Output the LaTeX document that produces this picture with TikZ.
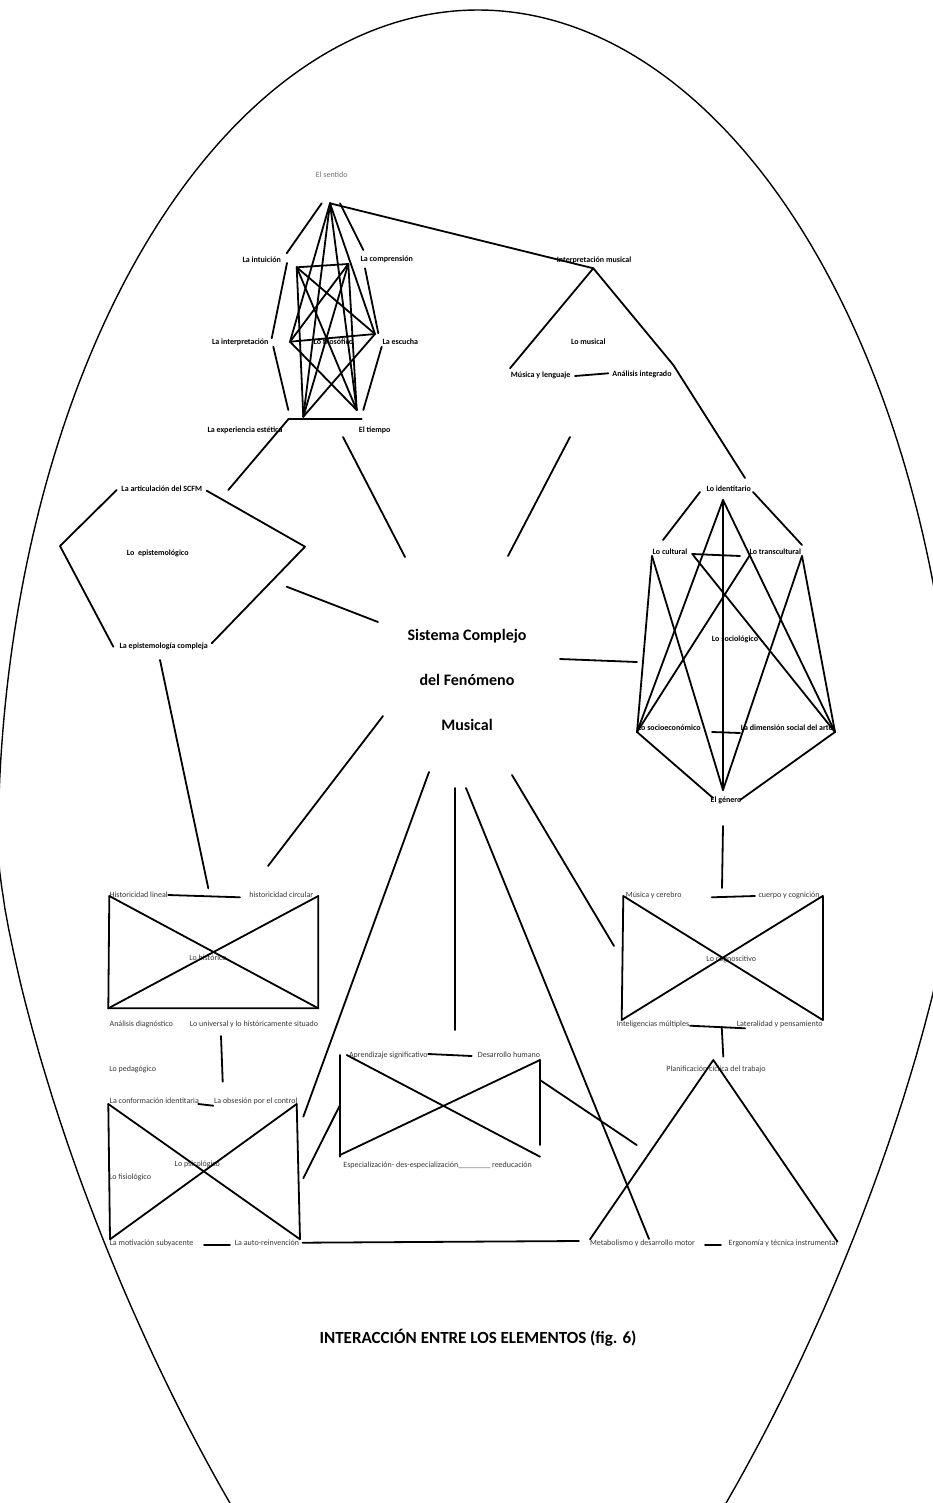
\documentclass[tikz,border=0pt]{standalone}
\usepackage{fontspec}
\setmainfont{Carlito}
\begin{document}
\begin{tikzpicture}[x=1pt,y=-1pt,
  ln/.style={line width=1.8pt, line cap=round, line join=round},
  oval/.style={line width=1.4pt},
  bl/.style={font=\bfseries\fontsize{8}{9}\selectfont, inner sep=0pt, text=black, anchor=base, yshift=-2.7pt},
  rl/.style={font=\fontsize{8}{9}\selectfont, inner sep=0pt, text=black!78, anchor=base, yshift=-2.7pt},
  gl/.style={font=\fontsize{8}{9}\selectfont, inner sep=0pt, text=black!55, anchor=base, yshift=-2.7pt},
  big/.style={font=\bfseries\fontsize{16}{20}\selectfont, inner sep=0pt, anchor=base, yshift=-5.3pt},
  ttl/.style={font=\bfseries\fontsize{17}{20}\selectfont, inner sep=0pt, anchor=base, yshift=-5.6pt}
]
\path[use as bounding box] (0,0) rectangle (933,1503);
\clip (0,0) rectangle (933,1503);
\fill[white] (0,0) rectangle (933,1503);

% outer oval (egg shape: elliptic top, flatter lower part)
\draw[oval] plot[domain=-90:90, samples=181] ({478+480*sin(\x)}, {850-840*cos(\x)});
\draw[oval] plot[domain=0.01:89.99, samples=90] ({478+480*pow(cos(\x),1.4286)}, {850+937*pow(sin(\x),1.4286)});
\draw[oval] plot[domain=0.01:89.99, samples=90] ({478-480*pow(cos(\x),1.4286)}, {850+937*pow(sin(\x),1.4286)});

% ---------- labels ----------
\node[gl] (sentido) at (331.7,175) {El sentido};
\node[bl] (intuicion) at (261.7,260) {La intuición};
\node[bl] (comprension) at (386.7,259.3) {La comprensión};
\node[bl] (interpretacion) at (240.3,342) {La interpretación};
\node[bl] (filosofico) at (333.3,342) {Lo filosófico};
\node[bl] (escucha) at (400.3,342) {La escucha};
\node[bl] (experiencia) at (245,430) {La experiencia estética};
\node[bl] (tiempo) at (374.7,430) {El tiempo};

\node[bl] (intmus) at (594,260) {Interpretación musical};
\node[bl] (musical) at (588.3,341.7) {Lo musical};
\node[bl] (mlen) at (540.7,375) {Música y lenguaje};
\node[bl] (anint) at (642,374) {Análisis integrado};

\node[bl] (artic) at (161.7,489) {La articulación del SCFM};
\node[bl] (episte) at (157.7,553) {Lo\ \ epistemológico};
\node[bl] (epcomp) at (163.7,646) {La epistemología compleja};

\node[bl] (identit) at (728.7,488.3) {Lo identitario};
\node[bl] (cultural) at (670,552) {Lo cultural};
\node[bl] (transc) at (775.3,552) {Lo transcultural};
\node[bl] (sociol) at (735,638.3) {Lo sociológico};
\node[bl] (socioec) at (669.3,728) {Lo socioeconómico};
\node[bl] (dimens) at (786.7,728) {La dimensión social del arte};
\node[bl] (genero) at (726,800) {El género};

\node[big] (sistema1) at (467,635) {Sistema Complejo};
\node[big] (sistema2) at (467,680) {del Fenómeno};
\node[big] (sistema3) at (467,725) {Musical};

\node[rl] (hlin) at (138.7,895) {Historicidad lineal};
\node[rl] (hcirc) at (281.3,895) {historicidad circular};
\node[rl] (histor) at (208,958) {Lo histórico};
\node[rl] (adiag) at (141.3,1023.3) {Análisis diagnóstico};
\node[rl] (univ) at (254,1023.3) {Lo universal y lo históricamente situado};

\node[rl] (mcer) at (653.7,895) {Música y cerebro};
\node[rl] (cuerpo) at (789,895) {cuerpo y cognición};
\node[rl] (cognos) at (731.3,958.3) {Lo cognoscitivo};
\node[rl] (intmul) at (653,1023.3) {Inteligencias múltiples};
\node[rl] (later) at (779.7,1023.3) {Lateralidad y pensamiento};
\node[rl] (planif) at (716,1068.3) {Planificación cíclica del trabajo};

\node[rl] (pedag) at (132.7,1068.3) {Lo pedagógico};
\node[rl] (conform) at (154.3,1100.7) {La conformación identitaria};
\node[rl] (obses) at (255.7,1100.7) {La obsesión por el control};
\node[rl] (psico) at (197.3,1164) {Lo psicológico};
\node[rl] (fisio) at (130,1177) {Lo fisiológico};
\node[rl] (motiv) at (151.5,1242.7) {La motivación subyacente};
\node[rl] (autor) at (267,1242.7) {La auto-reinvención};

\node[rl] (aprend) at (388.3,1055) {Aprendizaje significativo};
\node[rl] (desarr) at (509,1055) {Desarrollo humano};
\node[rl] (especial) at (437.7,1165) {Especialización- des-especialización\_\_\_\_\_\_\_\_\ reeducación};

\node[rl] (metab) at (642.5,1242.7) {Metabolismo y desarrollo motor};
\node[rl] (ergon) at (783,1242.7) {Ergonomía y técnica instrumental};

\node[ttl] (title) at (478,1338) {INTERACCIÓN ENTRE LOS ELEMENTOS (fig. 6)};

% ---------- coordinates ----------
% top cluster
\coordinate (A) at (330,203.3);
\coordinate (As1) at (321.7,203.3); \coordinate (Ae1) at (286.7,253.3);
\coordinate (As2) at (340,203.3);   \coordinate (Ae2) at (363.3,250);
\coordinate (Lo1) at (287,263);     \coordinate (Lo2) at (271.7,338.3);
\coordinate (Lo3) at (273.3,346.7); \coordinate (Lo4) at (288.3,410);
\coordinate (Ro1) at (365,268.3);   \coordinate (Ro2) at (378.3,333.3);
\coordinate (Ro3) at (381.7,346.7); \coordinate (Ro4) at (363.3,410);
\coordinate (Bh1) at (288.3,419.3); \coordinate (Bh2) at (361.7,419.3);
\coordinate (TL) at (296.7,267.3);  \coordinate (TR) at (348.3,264);
\coordinate (ML) at (290,341.7);    \coordinate (MR) at (375,334);
\coordinate (BL) at (303.3,416.7);  \coordinate (BR) at (356.7,410);
% interpretacion musical
\coordinate (IMa) at (593.3,268.3); \coordinate (IMl) at (510,368.3);
\coordinate (IMr) at (673.3,365);   \coordinate (IDt) at (745,478);
\coordinate (MLc1) at (575,376);    \coordinate (MLc2) at (608.3,373.3);
% pentagon
\coordinate (P1) at (116.7,490); \coordinate (P2) at (60,546);
\coordinate (P3) at (113.3,646.7); \coordinate (P4) at (211.7,643.3);
\coordinate (P5) at (305,546.7); \coordinate (P6) at (206.7,490.7);
\coordinate (ArtE) at (228.3,490);
\coordinate (PenC1) at (286.7,586.7); \coordinate (PenC2) at (378,622);
% center connectors
\coordinate (Tie1) at (343,437); \coordinate (Tie2) at (405,557);
\coordinate (Mus1) at (570,437); \coordinate (Mus2) at (508,556);
\coordinate (Soc1) at (560,659); \coordinate (Soc2) at (637,662);
\coordinate (His1) at (383,716); \coordinate (His2) at (268,866);
\coordinate (Psy1) at (429,772); \coordinate (Psy2) at (303.3,1116.7);
\coordinate (Apr1) at (455,788); \coordinate (Apr2) at (455,1030);
\coordinate (Met1) at (466,788); \coordinate (Met2) at (649,1239);
\coordinate (Cog1) at (512,775); \coordinate (Cog2) at (614,946);
\coordinate (EpH1) at (160,660); \coordinate (EpH2) at (208.3,888.3);
% sociologico block
\coordinate (V) at (723,500);  \coordinate (G) at (723,790);
\coordinate (CL) at (652,556); \coordinate (CR) at (802,556);
\coordinate (SL) at (637,732); \coordinate (SR) at (835,732);
\coordinate (Id1) at (700,492); \coordinate (Id2) at (663,540);
\coordinate (Id3) at (753,492); \coordinate (Id4) at (802,545);
\coordinate (Cu1) at (693,555); \coordinate (Tr1) at (750,555);
\coordinate (Hc1) at (692,554); \coordinate (Hc2) at (740,556);
\coordinate (Hs1) at (712,732); \coordinate (Hs2) at (740,733);
\coordinate (G1) at (713,798); \coordinate (G2) at (740,800);
\coordinate (Gen1) at (723,826); \coordinate (Gen2) at (722,888);
% historico box
\coordinate (HTL) at (109.3,896); \coordinate (HTR) at (318.3,896);
\coordinate (HBL) at (108.3,1008.3); \coordinate (HBR) at (318.3,1008.3);
\coordinate (Hl1) at (168.3,895); \coordinate (Hl2) at (240,897.3);
\coordinate (Un1) at (221,1036); \coordinate (Un2) at (222.7,1081.7);
% cognoscitivo box
\coordinate (CTL) at (623.3,896); \coordinate (CTR) at (822.7,896);
\coordinate (CBL) at (621.7,1020); \coordinate (CBR) at (822.7,1020);
\coordinate (Mc1) at (711.7,897.3); \coordinate (Mc2) at (755,896);
\coordinate (Im1) at (690,1025.7); \coordinate (Im2) at (745,1028.3);
\coordinate (Pl1) at (721.7,1026.7); \coordinate (Pl2) at (723.3,1056.7);
% planificacion triangle
\coordinate (PTa) at (713.3,1060); \coordinate (PTl) at (590,1239.3);
\coordinate (PTr) at (837.5,1241.7);
% psicologico box
\coordinate (STL) at (108.3,1104); \coordinate (STR) at (296.7,1104);
\coordinate (SBL) at (110,1239.3); \coordinate (SBR) at (300,1239.3);
\coordinate (Co1) at (198.3,1104); \coordinate (Co2) at (213.3,1105.7);
\coordinate (Mo1) at (204,1245); \coordinate (Mo2) at (230,1245);
\coordinate (Ps1) at (303.3,1178.3); \coordinate (Ps2) at (340,1105);
\coordinate (Au1) at (302.5,1242.7); \coordinate (Au2) at (579,1241);
% aprendizaje box
\coordinate (BTL) at (340,1055); \coordinate (BTLd) at (346.7,1055);
\coordinate (BTR) at (540,1060); \coordinate (BBL) at (340,1156.7);
\coordinate (BBLd) at (340,1155); \coordinate (BBR) at (540,1156.7);
\coordinate (BRe) at (540,1145);
\coordinate (Ap1) at (428.3,1054); \coordinate (Ap2) at (471.7,1056);
\coordinate (Bx1) at (540,1080); \coordinate (Bx2) at (636.7,1145);
\coordinate (Me1) at (705,1245); \coordinate (Me2) at (721,1245);

% ---------- connectors ----------
% top cluster
\draw[ln] (As1) -- (Ae1);
\draw[ln] (As2) -- (Ae2);
\draw[ln] (A) -- (IMa);
\draw[ln] (Lo1) -- (Lo2);
\draw[ln] (Lo3) -- (Lo4);
\draw[ln] (Ro1) -- (Ro2);
\draw[ln] (Ro3) -- (Ro4);
\draw[ln] (Bh1) -- (Bh2);
\draw[ln] (Bh1) -- (ArtE);
\draw[ln] (TL) -- (TR);
\draw[ln] (TL) -- (BL);
\draw[ln] (TR) -- (BR);
\draw[ln] (TL) -- (MR);
\draw[ln] (TL) -- (BR);
\draw[ln] (TR) -- (ML);
\draw[ln] (TR) -- (BL);
\draw[ln] (ML) -- (MR);
\draw[ln] (ML) -- (BR);
\draw[ln] (MR) -- (BL);
\draw[ln] (A) -- (ML);
\draw[ln] (A) -- (BL);
\draw[ln] (A) -- (BR);
\draw[ln] (A) -- (MR);
% interpretacion musical
\draw[ln] (IMl) -- (IMa) -- (IMr) -- (IDt);
\draw[ln] (MLc1) -- (MLc2);
% pentagon
\draw[ln] (P1) -- (P2) -- (P3);
\draw[ln] (P4) -- (P5) -- (P6);
\draw[ln] (PenC1) -- (PenC2);
% center spokes
\draw[ln] (Tie1) -- (Tie2);
\draw[ln] (Mus1) -- (Mus2);
\draw[ln] (Soc1) -- (Soc2);
\draw[ln] (His1) -- (His2);
\draw[ln] (Psy1) -- (Psy2);
\draw[ln] (Apr1) -- (Apr2);
\draw[ln] (Met1) -- (Met2);
\draw[ln] (Cog1) -- (Cog2);
\draw[ln] (EpH1) -- (EpH2);
% sociologico block
\draw[ln] (Id1) -- (Id2);
\draw[ln] (Id3) -- (Id4);
\draw[ln] (V) -- (G);
\draw[ln] (V) -- (SL);
\draw[ln] (V) -- (SR);
\draw[ln] (CL) -- (SL);
\draw[ln] (CL) -- (G);
\draw[ln] (Cu1) -- (SR);
\draw[ln] (Tr1) -- (SL);
\draw[ln] (CR) -- (G);
\draw[ln] (CR) -- (SR);
\draw[ln] (SL) -- (G1);
\draw[ln] (SR) -- (G2);
\draw[ln] (Hc1) -- (Hc2);
\draw[ln] (Hs1) -- (Hs2);
\draw[ln] (Gen1) -- (Gen2);
% historico box
\draw[ln] (HTL) -- (HBL) -- (HBR) -- (HTR);
\draw[ln] (HTL) -- (HBR);
\draw[ln] (HTR) -- (HBL);
\draw[ln] (Hl1) -- (Hl2);
\draw[ln] (Un1) -- (Un2);
% cognoscitivo box
\draw[ln] (CTL) -- (CBL);
\draw[ln] (CTR) -- (CBR);
\draw[ln] (CTL) -- (CBR);
\draw[ln] (CTR) -- (CBL);
\draw[ln] (Mc1) -- (Mc2);
\draw[ln] (Im1) -- (Im2);
\draw[ln] (Pl1) -- (Pl2);
% planificacion triangle
\draw[ln] (PTl) -- (PTa) -- (PTr);
% psicologico box
\draw[ln] (STL) -- (SBL);
\draw[ln] (STR) -- (SBR);
\draw[ln] (STL) -- (SBR);
\draw[ln] (STR) -- (SBL);
\draw[ln] (Co1) -- (Co2);
\draw[ln] (Mo1) -- (Mo2);
\draw[ln] (Ps1) -- (Ps2);
\draw[ln] (Au1) -- (Au2);
% aprendizaje box
\draw[ln] (BTL) -- (BBL);
\draw[ln] (BTR) -- (BRe);
\draw[ln] (BTLd) -- (BBR);
\draw[ln] (BBLd) -- (BTR);
\draw[ln] (Ap1) -- (Ap2);
\draw[ln] (Bx1) -- (Bx2);
\draw[ln] (Me1) -- (Me2);
\end{tikzpicture}
\end{document}
